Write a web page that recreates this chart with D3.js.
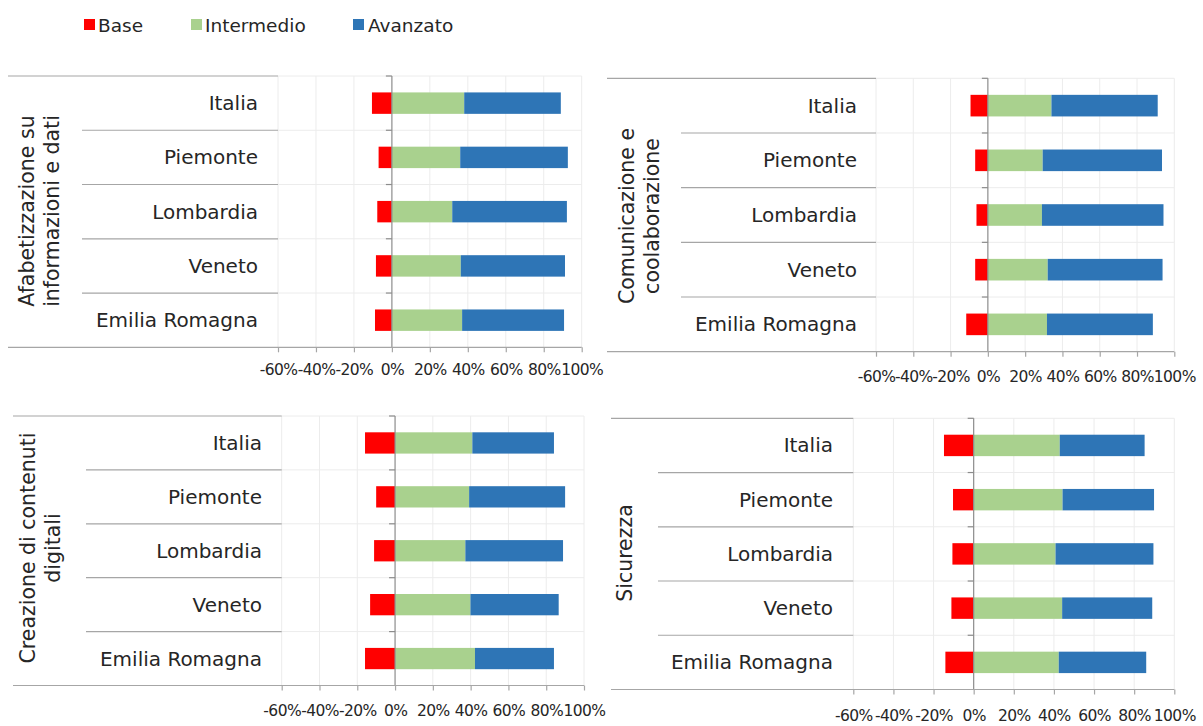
<!DOCTYPE html>
<html><head><meta charset="utf-8">
<script src="https://cdn.jsdelivr.net/npm/d3@7"></script>
<style>
html,body{margin:0;padding:0;background:#fff;}
svg{display:block;font-family:"DejaVu Sans",sans-serif;}
</style></head>
<body><svg id="c" width="1203" height="726"></svg>
<script>
// ---------- data ----------
const categories = ["Italia", "Piemonte", "Lombardia", "Veneto", "Emilia Romagna"];
const seriesNames = ["Base", "Intermedio", "Avanzato"];
const groupTitles = [
  ["Afabetizzazione su", "informazioni e dati"],
  ["Comunicazione e", "coolaborazione"],
  ["Creazione di contenuti", "digitali"],
  ["Sicurezza"]
];
// values in % (Base drawn on the negative side)
const baseAlfabetizzazione = [-10.5, -7.0, -7.7, -8.4, -8.9];
const intermedioAlfabetizzazione = [38.1, 36.0, 31.8, 36.3, 37.0];
const avanzatoAlfabetizzazione = [50.9, 56.7, 60.4, 54.9, 53.7];

const baseComunicazione = [-9.3, -6.8, -6.1, -6.8, -11.6];
const intermedioComunicazione = [34.1, 29.4, 29.0, 32.1, 31.7];
const avanzatoComunicazione = [57.0, 64.0, 65.2, 61.6, 56.8];

const baseCreazione = [-15.9, -10.0, -11.1, -13.2, -15.9];
const intermedioCreazione = [40.9, 39.2, 37.2, 39.9, 42.3];
const avanzatoCreazione = [43.2, 50.8, 51.7, 46.7, 41.8];

const baseSicurezza = [-14.8, -10.3, -10.6, -11.1, -14.1];
const intermedioSicurezza = [42.9, 44.3, 40.8, 44.1, 42.4];
const avanzatoSicurezza = [42.3, 45.6, 48.8, 44.9, 43.6];

const tickValues = [-60, -40, -20, 0, 20, 40, 60, 80, 100];
const tickLabels = ["-60%", "-40%", "-20%", "0%", "20%", "40%", "60%", "80%", "100%"];

// ---------- styles / layout ----------
const colors = {Base: "#FF0000", Intermedio: "#A9D18E", Avanzato: "#2E75B6"};
const panelData = [
  [baseAlfabetizzazione, intermedioAlfabetizzazione, avanzatoAlfabetizzazione],
  [baseComunicazione, intermedioComunicazione, avanzatoComunicazione],
  [baseCreazione, intermedioCreazione, avanzatoCreazione],
  [baseSicurezza, intermedioSicurezza, avanzatoSicurezza]
];
const layouts = [
  {outer: 8, sep: 82, labelR: 258, x0: 278, x1: 581.7, top: 76, bottom: 347.3, titleX: [27, 52], titleY: 211, tickDy: 23},
  {outer: 607, sep: 681, labelR: 857, x0: 876, x1: 1174.3, top: 78.3, bottom: 351.7, titleX: [627, 652], titleY: 216, tickDy: 25},
  {outer: 13, sep: 86, labelR: 262, x0: 281.7, x1: 584, top: 416, bottom: 685.5, titleX: [28, 53], titleY: 548, tickDy: 25},
  {outer: 611, sep: 658, labelR: 833, x0: 853.3, x1: 1174.3, top: 418.3, bottom: 689.5, titleX: [625], titleY: 553, tickDy: 26}
];

const svg = d3.select("#c");

// legend
const legendPos = [{sx: 84, tx: 98}, {sx: 191, tx: 205}, {sx: 353, tx: 368}];
const leg = svg.append("g");
seriesNames.forEach((s, i) => {
  leg.append("rect").attr("x", legendPos[i].sx).attr("y", 19).attr("width", 11).attr("height", 11).attr("fill", colors[s]);
  leg.append("text").attr("x", legendPos[i].tx).attr("y", 25).attr("dominant-baseline", "central")
    .attr("font-size", 18.5).attr("fill", "#262626").text(s);
});

panelData.forEach((series, pi) => {
  const L = layouts[pi];
  const g = svg.append("g");
  const x = d3.scaleLinear().domain([-60, 100]).range([L.x0, L.x1]);
  const y = d3.scaleBand().domain(categories).range([L.top, L.bottom]).padding(0);
  const bh = y.bandwidth() * 0.395;

  // gridlines vertical
  g.selectAll(".gv").data(tickValues.filter(v => v !== 0)).join("line")
    .attr("x1", d => x(d)).attr("x2", d => x(d)).attr("y1", L.top).attr("y2", L.bottom)
    .attr("stroke", "#ececec").attr("stroke-width", 1);
  // gridlines horizontal (band boundaries) inside plot
  const bounds = categories.map(c => y(c));
  g.selectAll(".gh").data(bounds).join("line")
    .attr("x1", L.x0).attr("x2", L.x1).attr("y1", d => d).attr("y2", d => d)
    .attr("stroke", "#ececec").attr("stroke-width", 1);

  // category separators (label area)
  g.selectAll(".sep").data(bounds.slice(1)).join("line")
    .attr("x1", L.sep).attr("x2", L.x0).attr("y1", d => d).attr("y2", d => d)
    .attr("stroke", "#a6a6a6").attr("stroke-width", 1.2);
  // top line
  g.append("line").attr("x1", L.outer).attr("x2", L.x0).attr("y1", L.top).attr("y2", L.top)
    .attr("stroke", "#a6a6a6").attr("stroke-width", 1.2);

  // bars
  const stacks = categories.map((c, i) => {
    const b = series[0][i], m = series[1][i], a = series[2][i];
    return [
      {s: "Base", c, x0: b, x1: 0},
      {s: "Intermedio", c, x0: 0, x1: m},
      {s: "Avanzato", c, x0: m, x1: m + a}
    ];
  }).flat();
  g.selectAll(".bar").data(stacks).join("rect")
    .attr("x", d => x(d.x0)).attr("width", d => x(d.x1) - x(d.x0))
    .attr("y", d => y(d.c) + (y.bandwidth() - bh) / 2).attr("height", bh)
    .attr("fill", d => colors[d.s]);

  // zero axis with ticks at band boundaries
  g.append("line").attr("x1", x(0)).attr("x2", x(0)).attr("y1", L.top).attr("y2", L.bottom)
    .attr("stroke", "#8c8c8c").attr("stroke-width", 1.2);
  g.selectAll(".zt").data(bounds).join("line")
    .attr("x1", x(0) - 6).attr("x2", x(0)).attr("y1", d => d).attr("y2", d => d)
    .attr("stroke", "#8c8c8c").attr("stroke-width", 1.2);

  // bottom axis line extended into label area
  g.append("line").attr("x1", L.outer).attr("x2", L.x1).attr("y1", L.bottom).attr("y2", L.bottom)
    .attr("stroke", "#a6a6a6").attr("stroke-width", 1.2);
  const ax = d3.axisBottom(x).tickValues(tickValues).tickSize(5)
    .tickFormat((d, i) => tickLabels[i]);
  const axG = g.append("g").attr("transform", `translate(0,${L.bottom})`).call(ax);
  axG.select(".domain").remove();
  axG.selectAll(".tick line").attr("stroke", "#a6a6a6").attr("stroke-width", 1.2);
  axG.selectAll(".tick text").attr("y", L.tickDy).attr("dy", null).attr("dominant-baseline", "central")
    .attr("font-size", 15.5).attr("font-family", "DejaVu Sans, sans-serif").attr("fill", "#262626")
    .attr("letter-spacing", "-0.6px");

  // category labels
  g.selectAll(".cl").data(categories).join("text")
    .attr("x", L.labelR).attr("y", d => y(d) + y.bandwidth() / 2)
    .attr("text-anchor", "end").attr("dominant-baseline", "central")
    .attr("font-size", 20).attr("fill", "#262626").text(d => d);

  // group title (rotated)
  groupTitles[pi].forEach((t, li) => {
    g.append("text").attr("transform", `translate(${L.titleX[li]},${L.titleY}) rotate(-90)`)
      .attr("text-anchor", "middle").attr("dominant-baseline", "central")
      .attr("font-size", 20.5).attr("fill", "#262626").text(t);
  });
});
</script></body></html>
